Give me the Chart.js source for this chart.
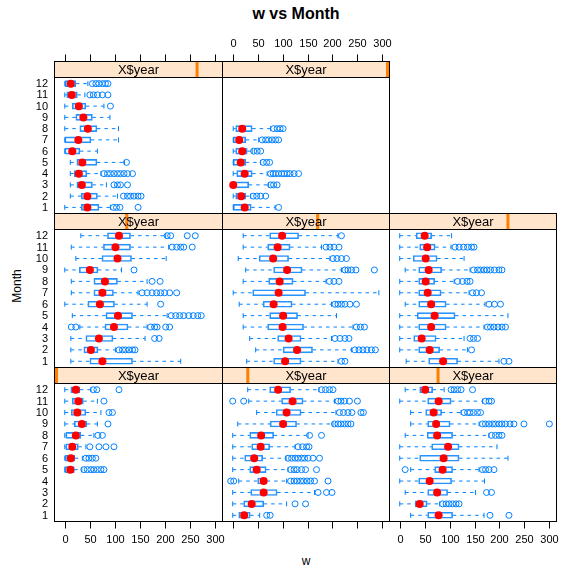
<!DOCTYPE html>
<html>
<head>
<meta charset="utf-8">
<script src="https://cdn.jsdelivr.net/npm/chart.js@4.4.1/dist/chart.umd.min.js"></script>
<style>
  body { margin: 0; background: #fff; }
  #wrap { position: relative; width: 563px; height: 573px; font-family: 'Liberation Sans', Arial, sans-serif; color: #000; }
  #wrap canvas { position: absolute; left: 0; top: 0; }
  .lbl { position: absolute; white-space: nowrap; transform: translate(-50%, -50%); }
</style>
</head>
<body>
<div id="wrap">
  <div class="lbl" style="left:296px; top:14px; font-size:16px; font-weight:bold;">w vs Month</div>
  <div class="lbl" style="left:17px; top:286px; font-size:12px; transform: translate(-50%, -50%) rotate(-90deg);">Month</div>
  <div class="lbl" style="left:306px; top:561px; font-size:12px;">w</div>
</div>
<script>
// months on the y axis, tick values on the x axis
const months = [1, 2, 3, 4, 5, 6, 7, 8, 9, 10, 11, 12];
const tickValues = [0, 50, 100, 150, 200, 250, 300];
const stripLabel = 'X$year';
const n = null;

// one row per panel, lattice order (bottom-left first), one value per month
const whiskerLow = [
  [n, n, n, n, 0, 0, 0, 0, 0, 0, 0, 0],
  [0, 0, 0, 12, 0, 0, 0, 0, 10, 48, 32, 30],
  [22, 0, 11, 0, 22, 0, 0, 11, 22, 22, 0, 11],
  [12, 12, 12, 30, 15, 0, 13, 13, 0, 22, 13, 32],
  [28, 46, 34, 21, 21, 13, 1, 21, 26, 11, 21, 21],
  [13, 0, 0, 0, 0, 11, 0, 0, 11, 0, 0, 0],
  [0, 11, 11, 11, 11, 0, 0, 0, 0, 0, 0, 0],
  [1, 1, 1, 1, 1, 1, 1, 1, n, n, n, n]
];
const lowerQuartile = [
  [n, n, n, n, 0, 1, 2, 2, 19, 13, 15, 12],
  [12, 22, 36, 50, 34, 24, 38, 34, 75, 87, 98, 74],
  [56, 31, 56, 38, 70, 40, 64, 55, 56, 52, 56, 40],
  [50, 38, 42, 80, 82, 46, 58, 58, 29, 74, 77, 85],
  [82, 101, 90, 70, 74, 61, 40, 72, 82, 53, 70, 74],
  [58, 38, 28, 38, 35, 38, 38, 38, 38, 27, 40, 33],
  [33, 33, 24, 19, 24, 0, 0, 30, 22, 15, 4, 1],
  [1, 6, 1, 8, 1, 6, 1, 6, n, n, n, n]
];
const medians = [
  [n, n, n, n, 11, 12, 15, 22, 34, 25, 27, 22],
  [23, 38, 62, 62, 48, 43, 56, 57, 101, 108, 120, 91],
  [78, 40, 75, 60, 86, 88, 97, 75, 73, 68, 78, 51],
  [75, 52, 68, 98, 106, 70, 75, 80, 50, 105, 101, 108],
  [105, 129, 112, 100, 101, 82, 92, 94, 109, 81, 90, 99],
  [87, 60, 44, 63, 70, 63, 56, 52, 58, 52, 55, 50],
  [45, 45, 34, 28, 35, 15, 27, 46, 37, 28, 14, 12],
  [24, 17, 1, 24, 16, 19, 13, 19, n, n, n, n]
];
const upperQuartile = [
  [n, n, n, n, 19, 20, 27, 32, 44, 42, 37, 30],
  [35, 62, 89, 68, 67, 60, 74, 82, 128, 137, 141, 116],
  [106, 55, 96, 104, 106, 119, 119, 106, 101, 84, 103, 66],
  [135, 66, 96, 126, 135, 99, 97, 105, 66, 133, 131, 131],
  [137, 160, 137, 142, 130, 119, 146, 121, 139, 112, 115, 132],
  [116, 80, 73, 93, 111, 93, 83, 70, 84, 75, 71, 64],
  [68, 65, 55, 44, 64, 30, 52, 64, 55, 42, 25, 22],
  [37, 26, 32, 39, 26, 29, 26, 39, n, n, n, n]
];
const whiskerHigh = [
  [n, n, n, n, 34, 35, 42, 58, 65, 72, 65, 52],
  [54, 108, 164, 108, 111, 107, 125, 151, 201, 207, 204, 173],
  [169, 80, 152, 170, 159, 217, 195, 179, 159, 123, 166, 89],
  [231, 101, 160, 164, 204, 164, 146, 164, 113, 202, 207, 201],
  [211, 238, 198, 241, 208, 198, 293, 187, 218, 195, 178, 211],
  [199, 136, 129, 169, 217, 171, 139, 109, 141, 129, 103, 104],
  [91, 105, 83, 72, 119, 65, 107, 107, 90, 78, 40, 46],
  [85, 36, 72, 69, 56, 39, 52, 76, n, n, n, n]
];
const outliers = [
  [[], [], [], [], [38, 45, 52, 58, 65, 72, 78], [42, 48, 55, 62], [50, 68, 82, 98], [66, 75], [86], [88, 95], [78], [57, 64, 108]],
  [[68, 75], [125, 146], [171, 188, 199], [-4, 2, 116, 123, 129, 136, 142, 149, 156, 164, 191], [116, 123, 129, 138, 146, 168],
   [111, 118, 125, 131, 138, 144, 151, 161, 174], [131, 140, 148, 153], [154, 178], [204, 211, 217, 224, 231, 237],
   [214, 222, 231, 239, 257, 262], [0, 22, 211, 217, 224, 234, 250], [178, 186, 194, 201]],
  [[181, 219], [86, 93, 99, 106, 113, 119], [174, 184], [], [11, 166, 172, 179, 189], [], [], [184, 192, 199, 205],
   [166, 172, 179, 186, 192, 199, 205, 212, 221, 229, 249, 300], [129, 136, 141, 148, 156, 162], [172, 179, 184], [103, 109, 116, 123, 146]],
  [[], [108, 115, 121, 128, 135, 140], [179, 188], [13, 22, 171, 179, 184, 201, 209], [212, 221, 229, 237, 247, 256, 265, 272], [191],
   [154, 164, 174, 183, 191, 199, 209, 223], [174, 190], [138], [], [214, 223, 231, 237, 254], [204, 211, 244, 260]],
  [[218, 225], [245, 253, 261, 269, 278, 286], [205, 215, 225, 233], [248, 256, 264], [], [205, 211, 218, 225, 235, 248], [],
   [194, 203, 213], [225, 231, 238, 247, 284], [201, 209, 218, 228], [187, 195, 203, 213], [218]],
  [[209, 219], [144], [141, 148, 156], [176, 182, 189, 197, 205, 212], [], [179, 190, 202], [146, 154, 164], [116, 126, 135, 141],
   [148, 156, 162, 169, 175, 182, 190, 199, 205], [], [111, 119, 128, 136, 144, 149], []],
  [[97, 103, 110, 146], [117, 125, 131, 138, 146, 152], [98, 105, 111, 125], [78, 85, 91, 98, 105, 111, 118, 125, 135], [123],
   [], [], [], [], [91], [50, 57, 65, 75, 86], [55, 62, 68, 75, 81, 86]],
  [[92], [41, 48, 56, 66], [76, 82, 89], [76, 81, 86, 92, 98, 103, 109, 115, 123, 132], [61, 68, 74], [42, 49, 56],
   [59, 66, 72, 79, 86, 92], [82, 89, 95, 101], [], [], [], []]
];

const W = 563, H = 573;
const BLUE = '#0080ff';
const colEdges = [54.5, 222.5, 389.5, 556.5];
const rowEdges = [[77.5, 213.5], [229.5, 367.5], [383.5, 521.5]]; // panel top/bottom, top row first
const STRIP_H = 16;
const FONT = "'Liberation Sans', Arial, sans-serif";

// draws strip, border and the alternating lattice axes around a panel
const latticePanel = {
  id: 'latticePanel',
  afterDatasetsDraw(chart, args, opts) {
    const { ctx, chartArea: a, scales: { x, y } } = chart;
    const L = a.left - 0.5, R = a.right + 0.5, T = a.top - 0.5, B = a.bottom + 0.5;
    const sTop = T - STRIP_H;
    ctx.save();

    // strip
    ctx.fillStyle = '#ffe5cc';
    ctx.fillRect(L, sTop, R - L, STRIP_H);
    const mw = 3;
    const mx = L + 0.5 + (opts.k / 7) * (R - L - 1 - mw);
    ctx.fillStyle = '#ff7f00';
    ctx.fillRect(mx, sTop + 0.5, mw, STRIP_H - 1);
    ctx.fillStyle = '#000';
    ctx.font = '13px ' + FONT;
    ctx.textAlign = 'center';
    ctx.textBaseline = 'middle';
    ctx.fillText(stripLabel, (L + R) / 2, sTop + STRIP_H / 2 + 0.5);

    ctx.strokeStyle = '#000';
    ctx.lineWidth = 1;
    ctx.strokeRect(L, sTop, R - L, STRIP_H);
    ctx.strokeRect(L, T, R - L, B - T);

    ctx.font = '11px ' + FONT;
    // x axis on top (top row) or bottom (bottom row)
    if (opts.top || opts.bottom) {
      tickValues.forEach(v => {
        const px = Math.round(x.getPixelForValue(v)) + 0.5;
        ctx.beginPath();
        if (opts.top) { ctx.moveTo(px, sTop); ctx.lineTo(px, sTop - 7); }
        else { ctx.moveTo(px, B); ctx.lineTo(px, B + 7); }
        ctx.stroke();
        if (opts.labels) {
          ctx.textAlign = 'center';
          ctx.textBaseline = 'middle';
          ctx.fillText(String(v), px, opts.top ? sTop - 18 : B + 18.5);
        }
      });
    }
    // month labels on the left column
    if (opts.left) {
      ctx.textAlign = 'right';
      ctx.textBaseline = 'middle';
      months.forEach(m => ctx.fillText(String(m), L - 6.5, y.getPixelForValue(m) + 0.5));
    }
    ctx.restore();
  }
};

const wrap = document.getElementById('wrap');

for (let k = 0; k < 8; k++) {
  const col = k % 3;
  const row = 2 - Math.floor(k / 3); // 0 = top row
  const canvas = document.createElement('canvas');
  canvas.width = W;
  canvas.height = H;
  wrap.appendChild(canvas);

  const boxes = [], whiskers = [], ends = [], meds = [], outs = [];
  months.forEach((m, i) => {
    if (medians[k][i] === null) return;
    boxes.push({ y: m, x: [lowerQuartile[k][i], upperQuartile[k][i]] });
    whiskers.push({ x: whiskerLow[k][i], y: m }, { x: lowerQuartile[k][i], y: m }, { x: null, y: null });
    whiskers.push({ x: upperQuartile[k][i], y: m }, { x: whiskerHigh[k][i], y: m }, { x: null, y: null });
    ends.push({ x: whiskerLow[k][i], y: m }, { x: whiskerHigh[k][i], y: m });
    meds.push({ x: medians[k][i], y: m });
    outliers[k][i].forEach(v => outs.push({ x: v, y: m }));
  });

  const [top, bottom] = rowEdges[row];

  new Chart(canvas, {
    type: 'scatter',
    data: {
      datasets: [
        { type: 'scatter', data: whiskers, showLine: true, spanGaps: false, borderColor: BLUE, borderWidth: 1,
          borderDash: [3.5, 4], pointRadius: 0, order: 5 },
        { type: 'scatter', data: ends, pointStyle: 'line', rotation: 90, pointRadius: 2.5, borderColor: BLUE,
          borderWidth: 1, order: 4 },
        { type: 'bar', indexAxis: 'y', data: boxes, backgroundColor: 'rgba(0,0,0,0)', borderColor: 'rgba(0,128,255,0.85)',
          borderWidth: 1, borderSkipped: false, barThickness: 6, order: 3 },
        { type: 'scatter', data: outs, pointRadius: 3, pointBackgroundColor: 'rgba(0,0,0,0)',
          pointBorderColor: BLUE, pointBorderWidth: 1, order: 2 },
        { type: 'scatter', data: meds, pointRadius: 4, pointBackgroundColor: '#ff0000', pointBorderWidth: 0, order: 1 }
      ]
    },
    options: {
      responsive: false,
      animation: false,
      devicePixelRatio: 1,
      events: [],
      layout: {
        padding: { left: colEdges[col] + 0.5, right: W - colEdges[col + 1] + 0.5, top: top + 0.5, bottom: H - bottom + 0.5 }
      },
      scales: {
        x: { type: 'linear', min: -19.5, max: 313.3, display: false, offset: false },
        y: { type: 'linear', min: 0.5, max: 12.5, display: false, offset: false }
      },
      plugins: {
        legend: { display: false },
        tooltip: { enabled: false },
        latticePanel: {
          k: k,
          left: col === 0,
          top: row === 0,
          bottom: row === 2,
          labels: (row === 0 && col === 1) || (row === 2 && col !== 1)
        }
      }
    },
    plugins: [latticePanel]
  });
}
</script>
</body>
</html>
